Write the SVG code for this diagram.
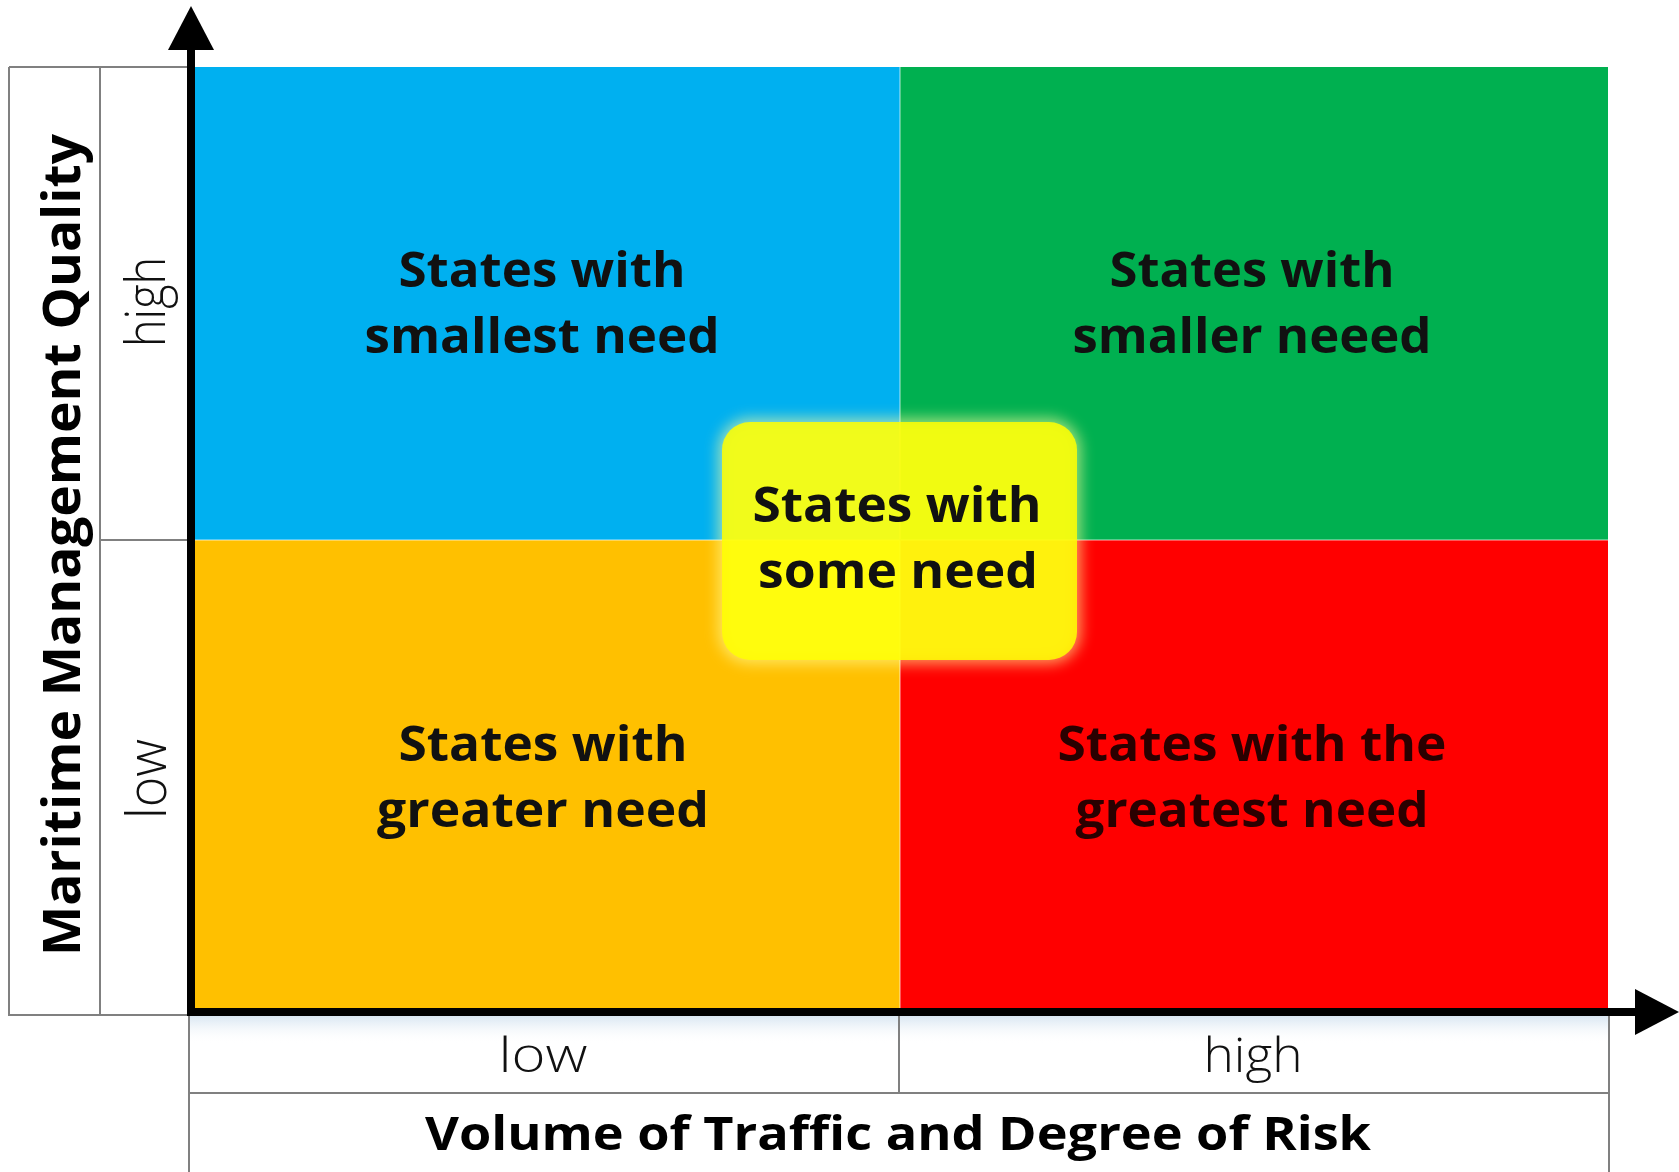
<svg xmlns="http://www.w3.org/2000/svg" width="1679" height="1172" viewBox="0 0 1679 1172">
  <defs>
    <style>
      .q { font-family: "Open Sans", "Liberation Sans", sans-serif; font-weight: 700; font-size: 48px; fill: #111; text-anchor: middle; }
      .qr { fill: #2a0000; }
      .lvl { font-family: "Open Sans", "Liberation Sans", sans-serif; font-weight: 300; font-size: 48px; fill: #111; text-anchor: middle; }
      .lvl-y { font-size: 55px; }
      .ttl { font-family: "Open Sans", "Liberation Sans", sans-serif; font-weight: 700; font-size: 47px; fill: #000; text-anchor: middle; }
      .ttl-y { font-size: 52px; }
      .grid { stroke: #808080; stroke-width: 2; fill: none; }
      .axis { stroke: #000; stroke-width: 8; fill: none; }
    </style>
    <marker id="arrow" markerUnits="userSpaceOnUse" markerWidth="44" markerHeight="46" refX="0" refY="23" orient="auto" viewBox="0 0 44 46">
      <path d="M0,0 L44,23 L0,46 Z" fill="#000"/>
    </marker>
    <filter id="glow" x="-20%" y="-20%" width="140%" height="140%">
      <feGaussianBlur stdDeviation="7"/>
    </filter>
    <linearGradient id="under" x1="0" y1="0" x2="0" y2="1">
      <stop offset="0" stop-color="#d9e6f2"/>
      <stop offset="1" stop-color="#ffffff" stop-opacity="0"/>
    </linearGradient>
  </defs>

  <rect width="1679" height="1172" fill="#ffffff"/>

  <!-- table frame -->
  <g id="frame">
    <rect x="189" y="1016" width="1420" height="28" fill="url(#under)"/>
    <path class="grid" d="M9,67 H193 M9,67 V1015 H193 M100,67 V1015 M100,540 H193"/>
    <path class="grid" d="M189,1012 V1172 M1609,1012 V1172 M899,1012 V1093 M189,1093 H1609"/>
  </g>

  <!-- quadrants -->
  <g id="q-smallest">
    <rect x="195" y="67" width="705" height="473" fill="#00B0F0"/>
    <text class="q" x="542" y="287" textLength="287" lengthAdjust="spacingAndGlyphs">States with</text>
    <text class="q" x="542" y="353" textLength="355" lengthAdjust="spacingAndGlyphs">smallest need</text>
  </g>
  <g id="q-smaller">
    <rect x="900" y="67" width="708" height="473" fill="#00B050"/>
    <text class="q" x="1252" y="287" textLength="285" lengthAdjust="spacingAndGlyphs">States with</text>
    <text class="q" x="1252" y="353" textLength="359" lengthAdjust="spacingAndGlyphs">smaller neeed</text>
  </g>
  <g id="q-greater">
    <rect x="195" y="540" width="705" height="472" fill="#FFC000"/>
    <text class="q" x="543" y="761" textLength="289" lengthAdjust="spacingAndGlyphs">States with</text>
    <text class="q" x="543" y="827" textLength="332" lengthAdjust="spacingAndGlyphs">greater need</text>
  </g>
  <g id="q-greatest">
    <rect x="900" y="540" width="708" height="472" fill="#FF0000"/>
    <text class="q qr" x="1252" y="761" textLength="389" lengthAdjust="spacingAndGlyphs">States with the</text>
    <text class="q qr" x="1252" y="827" textLength="353" lengthAdjust="spacingAndGlyphs">greatest need</text>
  </g>
  <path d="M900,67 V1012 M195,540 H1608" stroke="#ffffff" stroke-opacity="0.35" stroke-width="2" fill="none"/>

  <!-- center node -->
  <g id="q-some">
    <rect x="718" y="418" width="363" height="246" rx="32" fill="#ffff99" opacity="0.6" filter="url(#glow)"/>
    <rect x="722" y="422" width="355" height="238" rx="28" fill="#FFFF00" fill-opacity="0.86"/>
    <text class="q" x="897" y="522" textLength="289" lengthAdjust="spacingAndGlyphs">States with</text>
    <text class="q" x="898" y="588" textLength="280" lengthAdjust="spacingAndGlyphs">some need</text>
  </g>

  <!-- connectors: axes -->
  <g id="connectors">
    <path class="axis" d="M191,1016 V50" marker-end="url(#arrow)"/>
    <path class="axis" d="M187,1012 H1635" marker-end="url(#arrow)"/>
  </g>

  <!-- axis labels -->
  <g id="y-labels">
    <text class="lvl lvl-y" transform="translate(165,302) rotate(-90)" textLength="90" lengthAdjust="spacingAndGlyphs">high</text>
    <text class="lvl lvl-y" transform="translate(166,779) rotate(-90)" textLength="80" lengthAdjust="spacingAndGlyphs">low</text>
    <text class="ttl ttl-y" transform="translate(80,545) rotate(-90)" textLength="822" lengthAdjust="spacingAndGlyphs">Maritime Management Quality</text>
  </g>
  <g id="x-labels">
    <text class="lvl" x="543" y="1072" textLength="89" lengthAdjust="spacingAndGlyphs">low</text>
    <text class="lvl" x="1253" y="1072" textLength="99" lengthAdjust="spacingAndGlyphs">high</text>
    <text class="ttl" x="898" y="1150" textLength="946" lengthAdjust="spacingAndGlyphs">Volume of Traffic and Degree of Risk</text>
  </g>
</svg>
